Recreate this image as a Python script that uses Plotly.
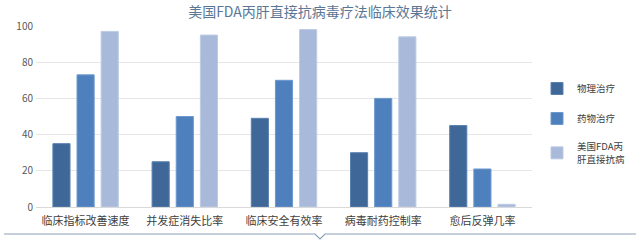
import plotly.graph_objects as go

categories = ["临床指标改善速度", "并发症消失比率", "临床安全有效率", "病毒耐药控制率", "愈后反弹几率"]
series_names = ["物理治疗", "药物治疗", "美国FDA丙<br>肝直接抗病"]
physical = [35, 25, 49, 30, 45]
drug = [73, 50, 70, 60, 21]
fda = [97, 95, 98, 94, 1.5]
y_ticks = [0, 20, 40, 60, 80, 100]

colors = ["#3f6898", "#4e80be", "#a9b9d9"]
edges = ["#5a82b0", "#6d98cc", "#bccbe4"]

FONT = "Noto Sans CJK SC"
fig = go.Figure()
for i, (name, vals) in enumerate(zip(series_names, [physical, drug, fda])):
    fig.add_trace(go.Bar(
        x=categories, y=vals, name=name, legendgroup=str(i),
        marker=dict(color=colors[i], line=dict(color=edges[i], width=1)),
    ))

L, R, T, B = 36, 108, 26, 34
W, H = 640, 241
pw, ph = W - L - R, H - T - B

def px(x):
    return (x - L) / pw

def py(y):
    return (H - B - y) / ph

line_y = py(234)
notch_y = py(239)
path = (f"M {px(4)},{line_y} L {px(315)},{line_y} L {px(320)},{notch_y} "
        f"L {px(325)},{line_y} L {px(636)},{line_y}")

fig.update_layout(
    width=W, height=H,
    margin=dict(l=L, r=R, t=T, b=B, autoexpand=False),
    paper_bgcolor="white", plot_bgcolor="white",
    font=dict(family=FONT, size=10, color="#404040"),
    title=dict(text="美国FDA丙肝直接抗病毒疗法临床效果统计", x=0.5, xref="container",
               xanchor="center", y=1 - 12 / H, yanchor="middle",
               font=dict(family=FONT, size=14, color="#5a7796")),
    barmode="group", bargap=0.27, bargroupgap=0.29,
    showlegend=True,
    legend=dict(x=px(537), y=py(74), xanchor="left", yanchor="top",
                font=dict(family=FONT, size=9.5, color="#404040"),
                tracegroupgap=11, itemwidth=30, bgcolor="rgba(0,0,0,0)"),
    shapes=[dict(type="path", xref="paper", yref="paper", path=path,
                 line=dict(color="#8aa0b8", width=1.2))],
)
fig.update_yaxes(range=[0, 100], tickvals=y_ticks, showgrid=True, gridcolor="#e6e6e6",
                 gridwidth=1, zeroline=True, zerolinecolor="#d9d9d9", zerolinewidth=1,
                 tickfont=dict(size=10, color="#595959"), ticks="", showline=False,
                 ticklabelstandoff=2)
fig.update_xaxes(tickfont=dict(size=11, color="#404040"), ticks="", showline=False,
                 ticklabelstandoff=6)

fig.write_html("out.html")
